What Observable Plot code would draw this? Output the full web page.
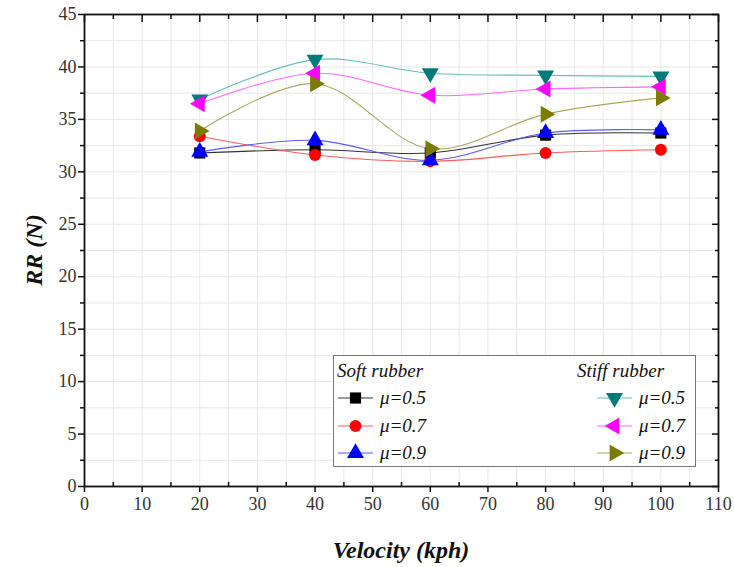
<!DOCTYPE html>
<html>
<head>
<meta charset="utf-8">
<script src="https://cdn.jsdelivr.net/npm/d3@7"></script>
<script src="https://cdn.jsdelivr.net/npm/@observablehq/plot@0.6"></script>
<style>
  html, body { margin: 0; padding: 0; background: #fff; }
  #chart { width: 734px; height: 567px; }
  svg text, svg g { font-family: "Liberation Serif", "Times New Roman", Times, "DejaVu Serif" !important; }
</style>
</head>
<body>
<div id="chart"></div>
<script>
// ---- data ----
const velocities = [20, 40, 60, 80, 100];
const soft05  = [31.8, 32.1, 31.8, 33.5, 33.7];
const soft07  = [33.4, 31.6, 31.0, 31.8, 32.1];
const soft09  = [31.9, 33.0, 31.1, 33.7, 34.0];
const stiff05 = [36.9, 40.7, 39.4, 39.2, 39.1];
const stiff07 = [36.5, 39.4, 37.3, 37.9, 38.1];
const stiff09 = [33.9, 38.4, 32.2, 35.5, 37.05];

const seriesNames = ["Soft μ=0.5", "Soft μ=0.7", "Soft μ=0.9", "Stiff μ=0.5", "Stiff μ=0.7", "Stiff μ=0.9"];
const legendLabels = ["μ=0.5", "μ=0.7", "μ=0.9", "μ=0.5", "μ=0.7", "μ=0.9"];
const seriesValues = [soft05, soft07, soft09, stiff05, stiff07, stiff09];
const markerColors = ["#000000", "#ff0000", "#0000ff", "#007b7b", "#ff00ff", "#7b7b00"];
const lineColors   = ["#333333", "#ff5a5a", "#5a5aff", "#6bbcbc", "#ff66ff", "#a8a860"];
const symbols      = ["square", "circle", "triangle", "triangle", "triangle", "triangle"];
const rotations    = [0, 0, 0, 180, -90, 90];
const xTicks = d3.range(0, 111, 10);
const yTicks = d3.range(0, 46, 5);

const data = seriesNames.flatMap((s, i) =>
  velocities.map((v, j) => ({series: s, idx: i, v, rr: seriesValues[i][j]})));

const W = 734, H = 567, mL = 84, mR = 16, mT = 14, mB = 81;

const marks = [
  Plot.gridX(d3.range(0, 111, 5), {stroke: "#e8e8e8", strokeOpacity: 1}),
  Plot.gridY(d3.range(0, 45.1, 2.5), {stroke: "#e8e8e8", strokeOpacity: 1}),
  // bottom axis
  Plot.axisX(xTicks, {anchor: "bottom", tickSize: 6, tickPadding: 5, fontSize: 18, fill: "#333", stroke: "#111", strokeWidth: 1.5, label: null}),
  Plot.axisX(d3.range(5, 110, 10), {anchor: "bottom", tickSize: -4, text: null, stroke: "#111", strokeWidth: 1.5, label: null}),
  // top axis inward ticks
  Plot.axisX(xTicks, {anchor: "top", tickSize: -7, text: null, stroke: "#111", strokeWidth: 1.5, label: null}),
  Plot.axisX(d3.range(5, 110, 10), {anchor: "top", tickSize: -4, text: null, stroke: "#111", strokeWidth: 1.5, label: null}),
  // left axis
  Plot.axisY(yTicks, {anchor: "left", tickSize: 6, tickPadding: 2, fontSize: 18, fill: "#333", stroke: "#111", strokeWidth: 1.5, label: null}),
  Plot.axisY(d3.range(2.5, 45, 5), {anchor: "left", tickSize: 4, text: null, stroke: "#111", strokeWidth: 1.5, label: null}),
  // right axis inward ticks
  Plot.axisY(yTicks, {anchor: "right", tickSize: -7, text: null, stroke: "#111", strokeWidth: 1.5, label: null}),
  Plot.axisY(d3.range(2.5, 45, 5), {anchor: "right", tickSize: -4, text: null, stroke: "#111", strokeWidth: 1.5, label: null}),
  Plot.frame({stroke: "#111", strokeWidth: 1.8})
];

seriesNames.forEach((s, i) => {
  const d = data.filter(r => r.idx === i);
  marks.push(Plot.line(d, {x: "v", y: "rr", stroke: lineColors[i], strokeWidth: 1.1, curve: "catmull-rom"}));
});
seriesNames.forEach((s, i) => {
  const d = data.filter(r => r.idx === i);
  marks.push(Plot.dot(d, {x: "v", y: "rr", symbol: () => symbols[i], fill: markerColors[i], stroke: "none",
    r: symbols[i] === "circle" ? 6 : 6.3, rotate: rotations[i]}));
});

const chart = Plot.plot({
  width: W, height: H,
  marginLeft: mL, marginRight: mR, marginTop: mT, marginBottom: mB,
  x: {domain: [0, 110], axis: null},
  y: {domain: [0, 45], axis: null},
  symbol: {type: "identity"},
  style: {fontFamily: "Liberation Serif, Times New Roman, DejaVu Serif", background: "#fff", overflow: "visible"},
  marks
});

const svg = d3.select(chart);
// axis titles
svg.append("text")
  .attr("transform", `translate(42, ${(mT + H - mB) / 2}) rotate(-90)`)
  .attr("text-anchor", "middle")
  .attr("font-size", 24).attr("font-weight", "bold").attr("font-style", "italic")
  .attr("fill", "#111")
  .text("RR (N)");
svg.append("text")
  .attr("x", (mL + W - mR) / 2).attr("y", 558)
  .attr("text-anchor", "middle")
  .attr("font-size", 24).attr("font-weight", "bold").attr("font-style", "italic")
  .attr("fill", "#111")
  .text("Velocity (kph)");

// legend
const lg = svg.append("g").attr("font-style", "italic").attr("font-size", 19).attr("fill", "#111").attr("text-anchor", "start");
lg.append("rect").attr("x", 333.5).attr("y", 355.5).attr("width", 362).attr("height", 111)
  .attr("fill", "#fff").attr("stroke", "#777").attr("stroke-width", 1);
lg.append("text").attr("x", 337).attr("y", 377).text("Soft rubber");
lg.append("text").attr("x", 577).attr("y", 377).text("Stiff rubber");
const rowY = [398, 426, 453];
seriesNames.forEach((s, i) => {
  const col = i < 3 ? 0 : 1;
  const y = rowY[i % 3];
  const x0 = col === 0 ? 338 : 597;
  const g = lg.append("g");
  g.append("line").attr("x1", x0).attr("x2", x0 + 35).attr("y1", y).attr("y2", y)
    .attr("stroke", lineColors[i]).attr("stroke-width", 1.1);
  const symType = symbols[i] === "square" ? d3.symbolSquare : symbols[i] === "circle" ? d3.symbolCircle : d3.symbolTriangle;
  const size = symbols[i] === "circle" ? Math.PI * 6 * 6 : Math.PI * 6.3 * 6.3;
  g.append("path").attr("d", d3.symbol(symType, size)())
    .attr("transform", `translate(${x0 + 17.5},${y}) rotate(${rotations[i]})`)
    .attr("fill", markerColors[i]);
  g.append("text").attr("x", x0 + 42).attr("y", y + 6).text(legendLabels[i]);
});

document.getElementById("chart").appendChild(chart);
</script>
</body>
</html>
